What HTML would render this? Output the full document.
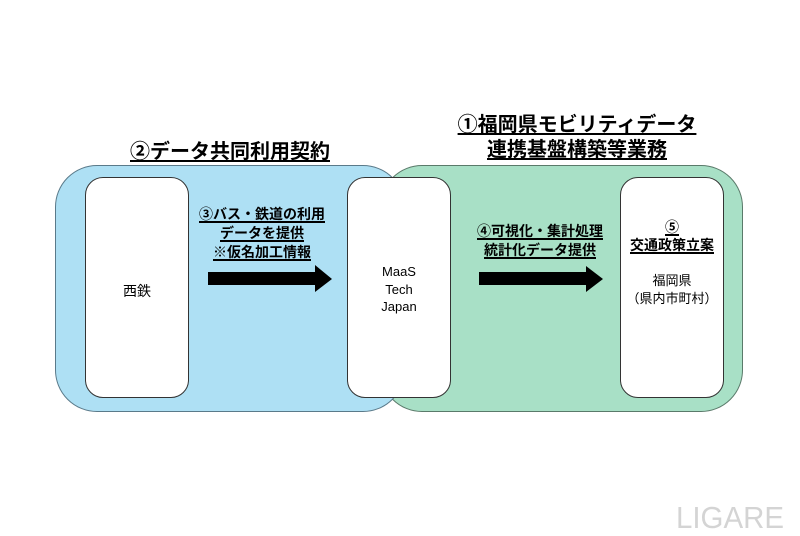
<!DOCTYPE html>
<html><head><meta charset="utf-8"><style>
body{margin:0;width:800px;height:533px;background:#fff;position:relative;overflow:hidden;font-family:"Liberation Sans","Noto Sans CJK JP",sans-serif;}
.a{position:absolute}
.box{position:absolute;background:#fff;border:1.5px solid #333;border-radius:18px;box-sizing:border-box}
.t{position:absolute;text-align:center;font-weight:bold;color:#000;white-space:nowrap}
u{text-decoration:underline;text-decoration-thickness:1.5px;text-underline-offset:2px}
</style></head><body>
<div class="a" style="left:380px;top:165px;width:363px;height:247px;background:#a8e0c6;border:1.5px solid #5a7a6a;border-radius:42px;box-sizing:border-box"></div>
<div class="a" style="left:55px;top:165px;width:350px;height:247px;background:#aee0f4;border:1.5px solid #5a7a8a;border-radius:42px;box-sizing:border-box"></div>
<div class="box" style="left:85px;top:177px;width:104px;height:221px"></div>
<div class="box" style="left:347px;top:177px;width:104px;height:221px"></div>
<div class="box" style="left:620px;top:177px;width:104px;height:221px"></div>
<svg class="a" style="left:0;top:0" width="800" height="533">
<polygon points="208,272 315,272 315,265 332,279 315,292 315,285 208,285" fill="#000"/>
<polygon points="479,272 586,272 586,266 603,279 586,292 586,285 479,285" fill="#000"/>
</svg>
<div class="t" style="left:130px;width:200px;top:135px;font-size:20px"><u>②データ共同利用契約</u></div>
<div class="t" style="left:447px;width:260px;top:113px;font-size:20px;line-height:25px"><u>①福岡県モビリティデータ</u><br><u>連携基盤構築等業務</u></div>
<div class="t" style="left:182px;width:160px;top:205px;font-size:14px;line-height:19px"><u>③バス・鉄道の利用</u><br><u>データを提供</u><br><u>※仮名加工情報</u></div>
<div class="t" style="left:460px;width:160px;top:222px;font-size:14px;line-height:19px"><u>④可視化・集計処理</u><br><u>統計化データ提供</u></div>
<div class="t" style="left:620px;width:104px;top:218px;font-size:14px;line-height:18px"><u>⑤</u><br><u>交通政策立案</u></div>
<div class="t" style="left:620px;width:104px;top:272px;font-size:13px;line-height:18px;font-weight:normal">福岡県<br>（県内市町村）</div>
<div class="t" style="left:85px;width:104px;top:281px;font-size:14px;font-weight:normal">西鉄</div>
<div class="t" style="left:347px;width:104px;top:263px;font-size:13px;line-height:17.5px;font-weight:normal">MaaS<br>Tech<br>Japan</div>
<div class="t" style="left:676px;top:500px;font-size:31px;color:#d4d4d4;font-weight:normal;letter-spacing:0px;transform:scaleX(0.95);transform-origin:left">LIGARE</div>
</body></html>
